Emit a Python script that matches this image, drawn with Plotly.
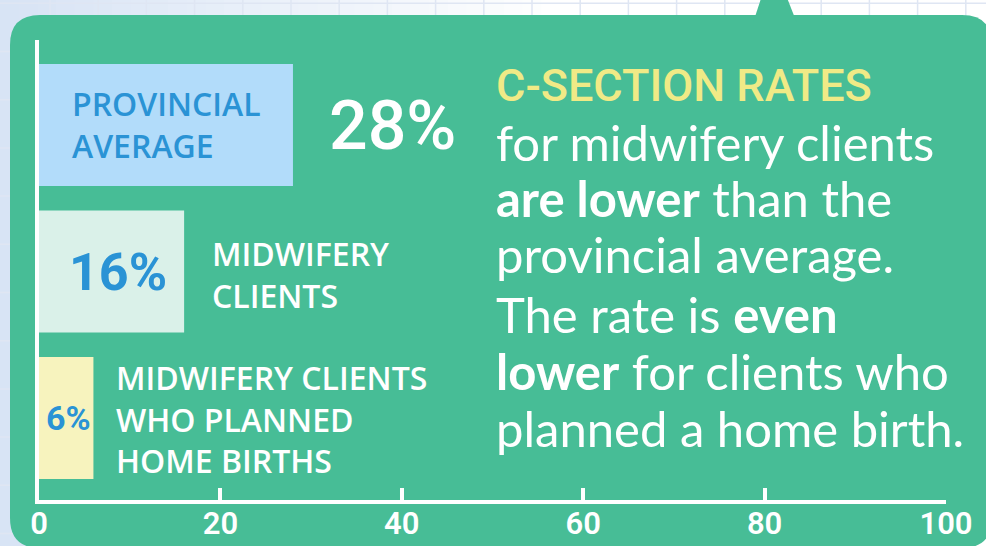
import plotly.graph_objects as go

# ---------------- data ----------------
categories = ["Midwifery clients who planned home births", "Midwifery clients", "Provincial average"]
rates = [6, 16, 28]
bar_colors = ["#F7F3BE", "#DAF1E9", "#B2DCFA"]
value_labels = ["6%", "16%", "28%"]
name_labels = ["MIDWIFERY CLIENTS<br>WHO PLANNED<br>HOME BIRTHS", "MIDWIFERY<br>CLIENTS", "PROVINCIAL<br>AVERAGE"]
tick_values = [0, 20, 40, 60, 80, 100]
tick_labels = ["0", "20", "40", "60", "80", "100"]
title_text = "C-SECTION RATES"
body_lines = [
    "for midwifery clients",
    "<b>are lower</b> than the",
    "provincial average.",
    "The rate is <b>even</b>",
    "<b>lower</b> for clients who",
    "planned a home birth.",
]

# ---------------- layout constants ----------------
W, H = 986, 546
ML, MR, MT, MB = 39, 40, 40, 46
PW, PH = W - ML - MR, H - MT - MB
GREEN = "#47BD96"
BLUE_TXT = "#2A93D5"
YELLOW = "#F0EA86"
COND = "Roboto, sans-serif"
SEMI = "Open Sans, Noto Sans, sans-serif"
BODY = "Lato, Open Sans, sans-serif"


def fx(px):
    return (px - ML) / PW


def fy(py):
    return (H - MB - py) / PH


shapes = []
# background gradient (light blue fading to white)
n_strips = 30
x_end = 560
for i in range(n_strips):
    t = i / (n_strips - 1)
    r = int(216 + (255 - 216) * t)
    g = int(228 + (255 - 228) * t)
    b = int(245 + (255 - 245) * t)
    shapes.append(dict(type="rect", xref="paper", yref="paper",
                       x0=fx(x_end * i / n_strips), x1=fx(x_end * (i + 1) / n_strips + 1),
                       y0=fy(H + 5), y1=fy(-5), line=dict(width=0),
                       fillcolor=f"rgb({r},{g},{b})", layer="below"))
# background grid
gx = 50.0
while gx < W:
    shapes.append(dict(type="line", xref="paper", yref="paper", x0=fx(gx), x1=fx(gx),
                       y0=fy(H + 5), y1=fy(-5), line=dict(color="#DFE6F3", width=1.5), layer="below"))
    gx += 48.2
gy = 3.3
while gy < H:
    shapes.append(dict(type="line", xref="paper", yref="paper", x0=fx(-5), x1=fx(W + 5),
                       y0=fy(gy), y1=fy(gy), line=dict(color="#DFE6F3", width=1.5), layer="below"))
    gy += 48.2

# green rounded panel
L, T, R, B, rad = 10, 15, 992, 548, 30
panel = (f"M {fx(L)},{fy(T + rad)} Q {fx(L)},{fy(T)} {fx(L + rad)},{fy(T)} "
         f"L {fx(R - rad)},{fy(T)} Q {fx(R)},{fy(T)} {fx(R)},{fy(T + rad)} "
         f"L {fx(R)},{fy(B - rad)} Q {fx(R)},{fy(B)} {fx(R - rad)},{fy(B)} "
         f"L {fx(L + rad)},{fy(B)} Q {fx(L)},{fy(B)} {fx(L)},{fy(B - rad)} Z")
shapes.append(dict(type="path", xref="paper", yref="paper", path=panel,
                   fillcolor=GREEN, line=dict(width=0), layer="below"))
# speech-bubble notch
notch = f"M {fx(753.3)},{fy(22)} L {fx(796.5)},{fy(22)} L {fx(773)},{fy(-38)} Z"
shapes.append(dict(type="path", xref="paper", yref="paper", path=notch,
                   fillcolor=GREEN, line=dict(width=0), layer="below"))

fig = go.Figure()
fig.add_trace(go.Bar(
    x=rates, y=categories, orientation="h",
    marker=dict(color=bar_colors, line=dict(width=0)),
    width=0.833, hoverinfo="skip", showlegend=False,
))

annotations = []
# provincial average
annotations.append(dict(x=3.4, y=categories[2], xref="x", yref="y", xanchor="left", yanchor="middle",
                        text=name_labels[2], align="left", showarrow=False,
                        font=dict(family=SEMI, size=32, color=BLUE_TXT, weight=600)))
annotations.append(dict(x=rates[2] + 3.8, y=categories[2], xref="x", yref="y", xanchor="left", yanchor="middle",
                        text=value_labels[2], showarrow=False, yshift=-1,
                        font=dict(family=COND, size=68, color="white", weight=500)))
# midwifery clients
annotations.append(dict(x=rates[1] / 2 + 0.7, y=categories[1], xref="x", yref="y", xanchor="center", yanchor="middle",
                        text=value_labels[1], showarrow=False, yshift=-1,
                        font=dict(family=COND, size=52, color=BLUE_TXT, weight=700)))
annotations.append(dict(x=rates[1] + 2.9, y=categories[1], xref="x", yref="y", xanchor="left", yanchor="middle",
                        text=name_labels[1], align="left", showarrow=False, yshift=-3,
                        font=dict(family=SEMI, size=32, color="white", weight=600)))
# home births
annotations.append(dict(x=rates[0] / 2 + 0.3, y=categories[0], xref="x", yref="y", xanchor="center", yanchor="middle",
                        text=value_labels[0], showarrow=False,
                        font=dict(family=COND, size=34, color=BLUE_TXT, weight=700)))
annotations.append(dict(x=rates[0] + 2.3, y=categories[0], xref="x", yref="y", xanchor="left", yanchor="middle",
                        text=name_labels[0], align="left", showarrow=False, yshift=-1,
                        font=dict(family=SEMI, size=32, color="white", weight=600)))

# right-hand text block
annotations.append(dict(x=fx(494), y=fy(85), xref="paper", yref="paper", xanchor="left", yanchor="middle",
                        text=title_text, showarrow=False,
                        font=dict(family=COND, size=45, color=YELLOW, weight=500)))
baselines = [161, 217, 273, 333, 390, 447]
for line, base in zip(body_lines, baselines):
    annotations.append(dict(x=fx(494), y=fy(base - 19), xref="paper", yref="paper", xanchor="left",
                            yanchor="middle", text=line, showarrow=False,
                            font=dict(family=BODY, size=49, color="white")))

fig.update_layout(
    width=W, height=H,
    margin=dict(l=ML, r=MR, t=MT, b=MB, pad=0, autoexpand=False),
    paper_bgcolor="white", plot_bgcolor="rgba(0,0,0,0)",
    shapes=shapes, annotations=annotations,
    bargap=0.167,
    xaxis=dict(range=[0, 100], tickvals=tick_values, ticktext=tick_labels,
               ticks="inside", ticklen=12, tickwidth=4, tickcolor="white",
               showline=True, linecolor="white", linewidth=4, automargin=False,
               ticklabelstandoff=-7,
               showgrid=False, zeroline=False, fixedrange=True,
               tickfont=dict(family=COND, size=31, color="white", weight=600)),
    yaxis=dict(type="category", categoryorder="array", categoryarray=categories,
               range=[-0.56, 2.58], showline=True, linecolor="white", linewidth=4,
               automargin=False,
               showticklabels=False, ticks="", showgrid=False, zeroline=False, fixedrange=True),
)

fig.write_html("out.html", config={"displayModeBar": False},
               post_script="document.body.style.margin='0';document.body.style.overflow='hidden';")
